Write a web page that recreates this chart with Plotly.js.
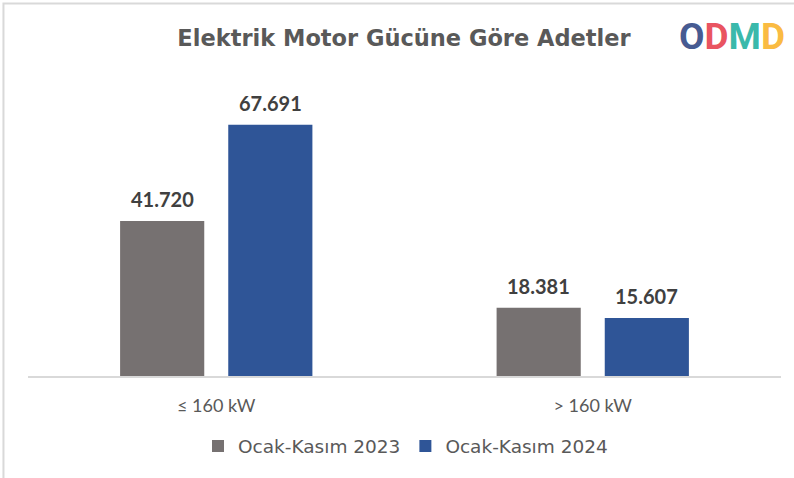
<!DOCTYPE html>
<html>
<head>
<meta charset="utf-8">
<script src="https://cdn.plot.ly/plotly-3.0.1.min.js"></script>
<style>html,body{margin:0;padding:0;background:#fff;}#chart{width:794px;height:478px;}</style>
</head>
<body>
<div id="chart"></div>
<script>
const categories = ["≤ 160 kW", "> 160 kW"];
const seriesNames = ["Ocak-Kasım 2023", "Ocak-Kasım 2024"];
const values2023 = [41720, 18381];
const values2024 = [67691, 15607];
const labels2023 = ["41.720", "18.381"];
const labels2024 = ["67.691", "15.607"];

const lato = "'Lato', 'DejaVu Sans', sans-serif";
const dv = "'DejaVu Sans', sans-serif";

const traces = [
  {type:'bar', name:seriesNames[0], x:categories, y:values2023,
   marker:{color:'#767171'}, hoverinfo:'none'},
  {type:'bar', name:seriesNames[1], x:categories, y:values2024,
   marker:{color:'#2F5597'}, hoverinfo:'none'}
];

const annotations = [];
[[values2023, labels2023, -54], [values2024, labels2024, 54]].forEach(([vals, labs, dx]) => {
  categories.forEach((c, i) => {
    annotations.push({x:c, y:vals[i], xref:'x', yref:'y', text:'<b>'+labs[i]+'</b>',
      xshift:dx, yshift:8, yanchor:'bottom', xanchor:'center', showarrow:false,
      font:{family:lato, size:20, color:'#404040'}});
  });
});

annotations.push({
  text:'<b><span style="color:rgba(52,75,135,0.92)">O</span><span style="color:rgba(230,60,75,0.88)">D</span><span style="color:rgba(30,175,160,0.88)">M</span><span style="color:rgba(250,178,40,0.9)">D</span></b>',
  xref:'paper', yref:'paper', x:(731-28)/752, y:(378-36)/300, xanchor:'center', yanchor:'middle',
  showarrow:false, font:{family:"'Roboto', sans-serif", size:37}
});

const layout = {
  width:794, height:478,
  margin:{l:28, r:13, t:78, b:100},
  paper_bgcolor:'#ffffff', plot_bgcolor:'#ffffff',
  title:{text:'<b>Elektrik Motor Gücüne Göre Adetler</b>', x:404/794, xanchor:'center',
         y:1-38/478, yanchor:'middle',
         font:{family:dv, size:22.5, color:'#595959'}},
  barmode:'group', bargap:0.4255, bargroupgap:0.222,
  xaxis:{showline:true, linecolor:'#D9D9D9', linewidth:2, ticks:'', ticklabelstandoff:12,
         tickfont:{family:lato, size:18, color:'#595959'}, showgrid:false, fixedrange:true},
  yaxis:{range:[0,80257], visible:false, showgrid:false, zeroline:false, fixedrange:true},
  showlegend:true,
  legend:{orientation:'h', x:(405-28)/752, xanchor:'center', y:-(449-378)/300, yanchor:'middle',
          font:{family:dv, size:18.5, color:'#595959'}, traceorder:'normal',
          itemwidth:30},
  shapes:[{type:'rect', xref:'paper', yref:'paper',
           x0:(3.5-28)/752, x1:1.2, y0:-0.6, y1:(378-3)/300,
           line:{color:'#D9D9D9', width:2}, fillcolor:'rgba(0,0,0,0)'}],
  annotations:annotations
};

Plotly.newPlot('chart', traces, layout, {displayModeBar:false, staticPlot:true});
</script>
</body>
</html>
